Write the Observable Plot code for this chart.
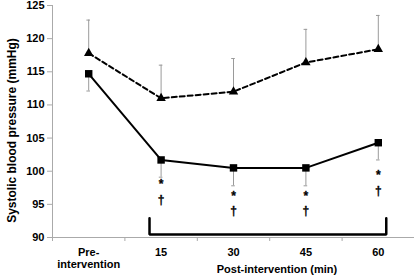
<!DOCTYPE html>
<html>
<head>
<meta charset="utf-8">
<script src="https://cdn.jsdelivr.net/npm/d3@7"></script>
<script src="https://cdn.jsdelivr.net/npm/@observablehq/plot@0.6"></script>
<style>
  html, body { margin: 0; padding: 0; background: #fff; }
  svg { display: block; }
</style>
</head>
<body>
<div id="chart"></div>
<script>
const categories = ["Pre-\nintervention", "15", "30", "45", "60"];
const controlMean = [117.8, 111.0, 112.0, 116.4, 118.4];
const controlUpper = [122.8, 116.0, 117.0, 121.4, 123.5];
const interventionMean = [114.7, 101.7, 100.5, 100.5, 104.3];
const interventionLower = [112.1, 99.1, 97.8, 97.8, 101.7];
const yTicks = [90, 95, 100, 105, 110, 115, 120, 125];
// significance annotations: category index, symbol, y value
const sigIndex = [1, 1, 2, 2, 3, 3, 4, 4];
const sigSymbol = ["*", "†", "*", "†", "*", "†", "*", "†"];
const sigY = [98.0, 95.6, 96.2, 93.9, 96.2, 93.9, 99.4, 97.0];
const bracketX = [0.84, 0.84, 4.11, 4.11];
const bracketY = [92.9, 90.45, 90.45, 92.9];

const idx = categories.map((_, i) => i);
const control = idx.map(i => ({x: i, y: controlMean[i], hi: controlUpper[i]}));
const interv = idx.map(i => ({x: i, y: interventionMean[i], lo: interventionLower[i]}));
const sig = sigIndex.map((c, i) => ({x: c, s: sigSymbol[i], y: sigY[i]}));
const bracket = bracketX.map((x, i) => ({x, y: bracketY[i]}));
const font = "Liberation Sans, Arial, sans-serif";

const chart = Plot.plot({
  width: 414,
  height: 275,
  marginLeft: 52,
  marginRight: 0,
  marginTop: 5,
  marginBottom: 38,
  style: {fontFamily: font, fontWeight: "bold", fontSize: "11px", color: "#000", background: "#fff"},
  x: {type: "linear", domain: [-0.5, 4.5], axis: null},
  y: {type: "linear", domain: [90, 125], axis: null},
  marks: [
    Plot.axisY({ticks: yTicks, tickSize: 5, tickPadding: 3, stroke: "#aaa", label: null, fontSize: 11, fontWeight: "bold"}),
    Plot.axisX({ticks: [-0.5, 0.5, 1.5, 2.5, 3.5, 4.5], tickSize: 4, tickFormat: () => "", stroke: "#aaa", label: null}),
    Plot.ruleX([-0.5], {stroke: "#aaa"}),
    Plot.ruleY([90], {stroke: "#aaa"}),
    // error bars
    Plot.ruleX(control, {x: "x", y1: "y", y2: "hi", stroke: "#9a9a9a", strokeWidth: 1}),
    Plot.ruleY(control, {y: "hi", x1: d => d.x - 0.025, x2: d => d.x + 0.025, stroke: "#9a9a9a", strokeWidth: 1}),
    Plot.ruleX(interv, {x: "x", y1: "y", y2: "lo", stroke: "#9a9a9a", strokeWidth: 1}),
    Plot.ruleY(interv, {y: "lo", x1: d => d.x - 0.025, x2: d => d.x + 0.025, stroke: "#9a9a9a", strokeWidth: 1}),
    // lines
    Plot.line(control, {x: "x", y: "y", stroke: "black", strokeWidth: 2, strokeDasharray: "5,3"}),
    Plot.line(interv, {x: "x", y: "y", stroke: "black", strokeWidth: 2}),
    Plot.dot(control, {x: "x", y: "y", symbol: "triangle", r: 3.5, fill: "black", stroke: "none"}),
    Plot.dot(interv, {x: "x", y: "y", symbol: "square", r: 4.2, fill: "black", stroke: "none"}),
    // significance
    Plot.text(sig, {x: "x", y: "y", text: "s", fontSize: 12, fontWeight: "bold", fill: "black", stroke: "black", strokeWidth: 0.3}),
    // bracket
    Plot.line(bracket, {x: "x", y: "y", stroke: "black", strokeWidth: 2.5, strokeLinejoin: "miter"}),
    // x labels
    Plot.text(categories, {x: (d, i) => i, frameAnchor: "bottom", lineAnchor: "top", dy: 10, text: d => d, fontSize: 11, fontWeight: "bold", lineHeight: 1.1, fill: "black"}),
    Plot.text(["Post-intervention (min)"], {x: () => 2.6, frameAnchor: "bottom", lineAnchor: "top", dy: 28, text: d => d, fontSize: 11, fontWeight: "bold", fill: "black"}),
    Plot.text(["Systolic blood pressure (mmHg)"], {frameAnchor: "left", textAnchor: "middle", rotate: -90, dx: -40, dy: 9, text: d => d, fontSize: 12, fontWeight: "bold", fill: "black"})
  ]
});
document.getElementById("chart").appendChild(chart);
</script>
</body>
</html>
